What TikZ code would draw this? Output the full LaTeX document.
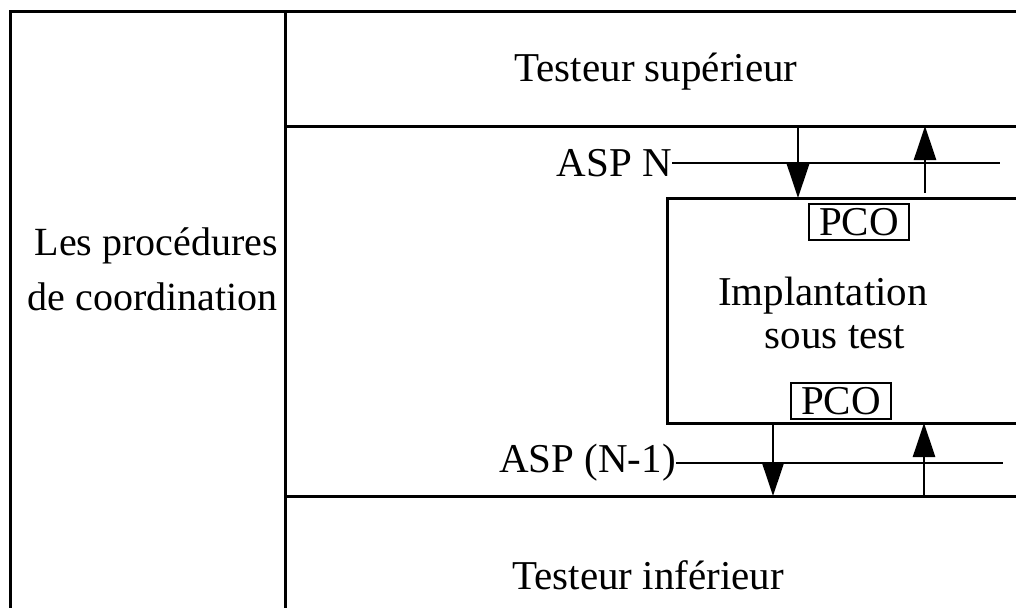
\documentclass[tikz,border=0pt]{standalone}
\usepackage{fontspec}
\setmainfont{Liberation Serif}
\usetikzlibrary{arrows.meta}
\begin{document}
\begin{tikzpicture}[x=1pt,y=-1pt,
  thickline/.style={line width=3pt,line cap=rect},
  thinline/.style={line width=1.4pt},
  sig/.style={line width=2.6pt,-{Triangle[length=34pt,width=22pt]}},
  lbl/.style={font=\fontsize{41}{48}\selectfont,inner sep=0pt},
  pco/.style={draw,line width=2pt,font=\fontsize{41}{48}\selectfont,inner xsep=10pt,inner ysep=1pt,minimum height=36pt}]
\useasboundingbox (0,0) rectangle (1016,607);
% frame
\draw[thickline] (10,615) -- (10,12) -- (1020,12);
\draw[thickline] (285,12) -- (285,615);
\draw[thickline] (285,126) -- (1020,126);
\draw[thickline] (285,496) -- (1020,496);
% IUT box
\draw[thickline] (1020,198) -- (667,198) -- (667,423) -- (1020,423);
% texts
\node[lbl] (sup) at (656,72) {Testeur supérieur};
\node[lbl] (inf) at (648,575) {Testeur inférieur};
\node[lbl,anchor=east,font=\fontsize{40}{48}\selectfont] (lp1) at (278,246) {Les procédures};
\node[lbl,anchor=east,font=\fontsize{40}{48}\selectfont] (lp2) at (278,297) {de coordination};
\node[lbl] (impl) at (823,296) {Implantation};
\node[lbl] (sous) at (835,337) {sous test};
\node[pco] (pco1) at (859,222) {PCO};
\node[pco] (pco2) at (841,401) {PCO};
\node[lbl,anchor=east] (aspn) at (672,163) {ASP N};
\node[lbl,anchor=east] (aspn1) at (676,463) {ASP (N-1)};
% thin lines
\coordinate (e1) at (1000,163);
\coordinate (e2) at (1003,463);
\draw[thinline] (aspn.east) -- (e1);
\draw[thinline] (aspn1.east) -- (e2);
% arrows upper
\coordinate (a1s) at (798,126); \coordinate (a1e) at (798,198);
\coordinate (a2s) at (925,193); \coordinate (a2e) at (925,126);
\draw[sig] (a1s) -- (a1e);
\draw[sig] (a2s) -- (a2e);
% arrows lower
\coordinate (b1s) at (773,423); \coordinate (b1e) at (773,496);
\coordinate (b2s) at (924,496); \coordinate (b2e) at (924,423);
\draw[sig] (b1s) -- (b1e);
\draw[sig] (b2s) -- (b2e);
\end{tikzpicture}
\end{document}
